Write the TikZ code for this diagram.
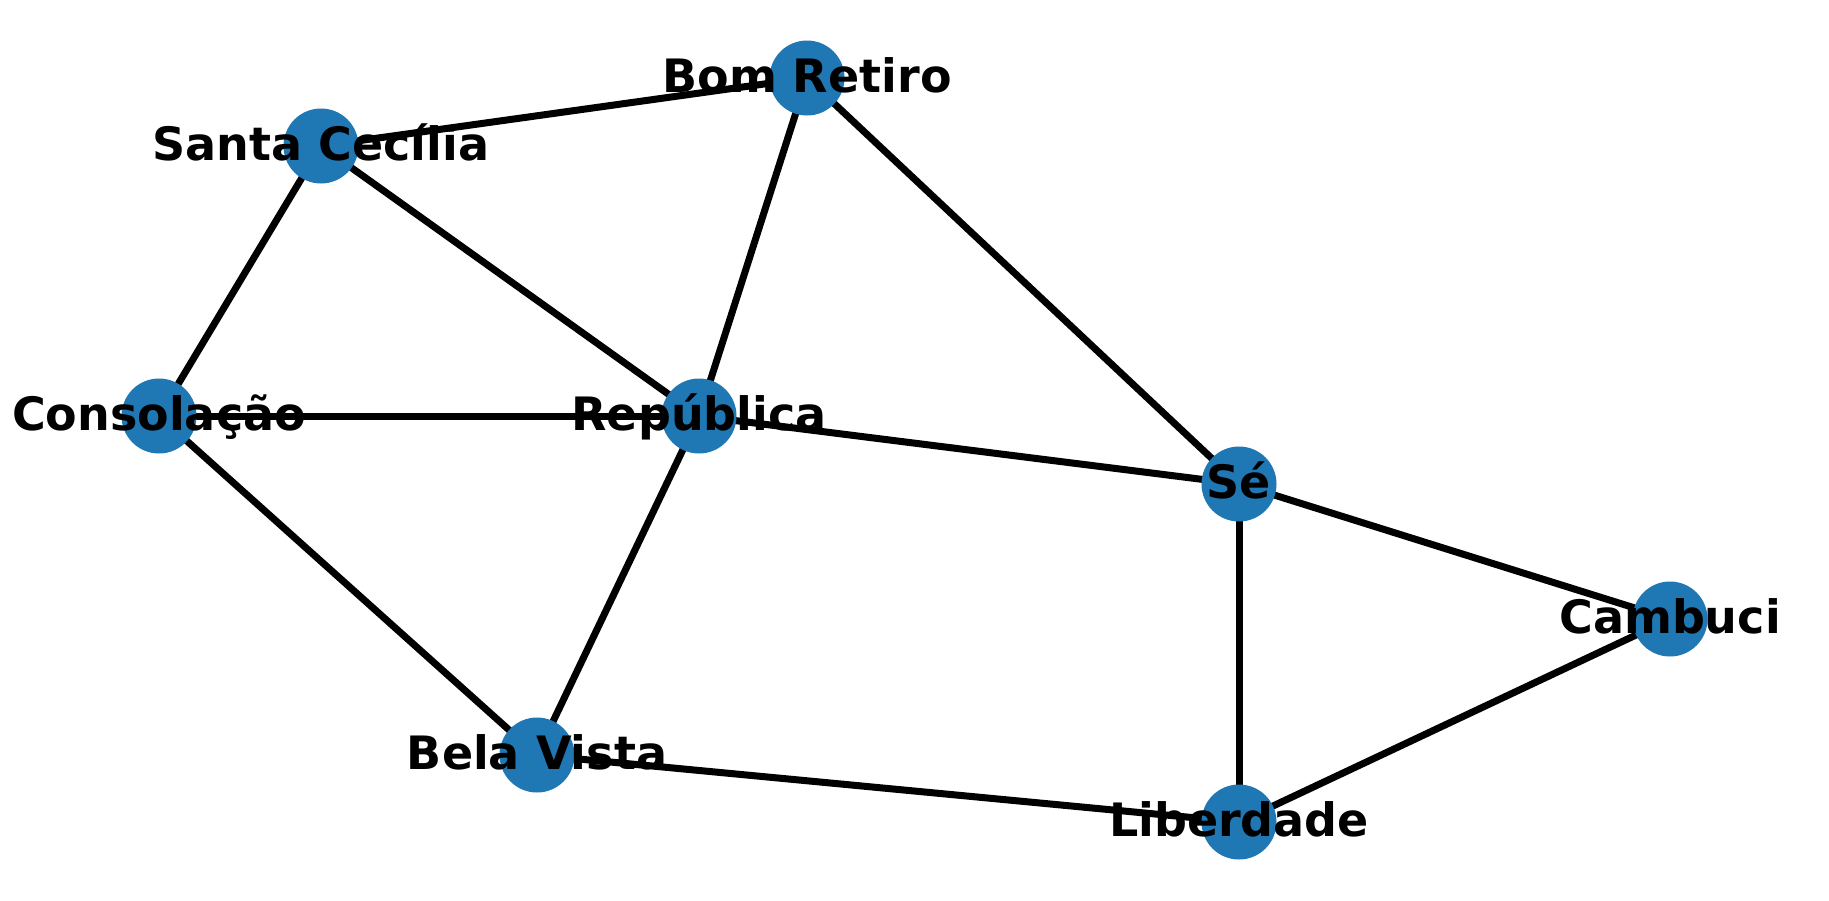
\documentclass[tikz,border=0pt]{standalone}
\usepackage{fontspec}
\setmainfont{DejaVu Sans}
\usetikzlibrary{backgrounds}
\definecolor{nodeblue}{HTML}{1F77B4}
\tikzset{
  station/.style={circle, fill=nodeblue, draw=none, minimum size=75pt, inner sep=0pt},
  lab/.style={anchor=base, inner sep=0pt, text=black, font=\fontsize{46}{50}\selectfont\bfseries},
  edge/.style={line width=7pt, draw=black}
}
\begin{document}
\begin{tikzpicture}[x=1pt,y=-1pt]
\useasboundingbox (0,0) rectangle (1829,900);
\node[station] (bom) at (807,78) {};
\node[station] (santa) at (321,146) {};
\node[station] (cons) at (159,416) {};
\node[station] (rep) at (699,416) {};
\node[station] (se) at (1239,484) {};
\node[station] (camb) at (1670,619) {};
\node[station] (bela) at (537,755) {};
\node[station] (lib) at (1239,822) {};
\begin{scope}[on background layer]
\draw[edge] (santa.center) -- (bom.center);
\draw[edge] (santa.center) -- (cons.center);
\draw[edge] (santa.center) -- (rep.center);
\draw[edge] (bom.center) -- (rep.center);
\draw[edge] (bom.center) -- (se.center);
\draw[edge] (cons.center) -- (rep.center);
\draw[edge] (cons.center) -- (bela.center);
\draw[edge] (rep.center) -- (se.center);
\draw[edge] (rep.center) -- (bela.center);
\draw[edge] (se.center) -- (camb.center);
\draw[edge] (se.center) -- (lib.center);
\draw[edge] (camb.center) -- (lib.center);
\draw[edge] (bela.center) -- (lib.center);
\end{scope}
\node[lab] (tbom) at ([yshift=-14.5pt]bom.center) {Bom Retiro};
\node[lab] (tsanta) at ([yshift=-14.5pt]santa.center) {Santa Cecília};
\node[lab] (tcons) at ([yshift=-14.5pt]cons.center) {Consolação};
\node[lab] (trep) at ([yshift=-14.5pt]rep.center) {República};
\node[lab] (tse) at ([yshift=-14.5pt]se.center) {Sé};
\node[lab] (tcamb) at ([yshift=-14.5pt]camb.center) {Cambuci};
\node[lab] (tbela) at ([yshift=-14.5pt]bela.center) {Bela Vista};
\node[lab] (tlib) at ([yshift=-14.5pt]lib.center) {Liberdade};
\end{tikzpicture}
\end{document}
